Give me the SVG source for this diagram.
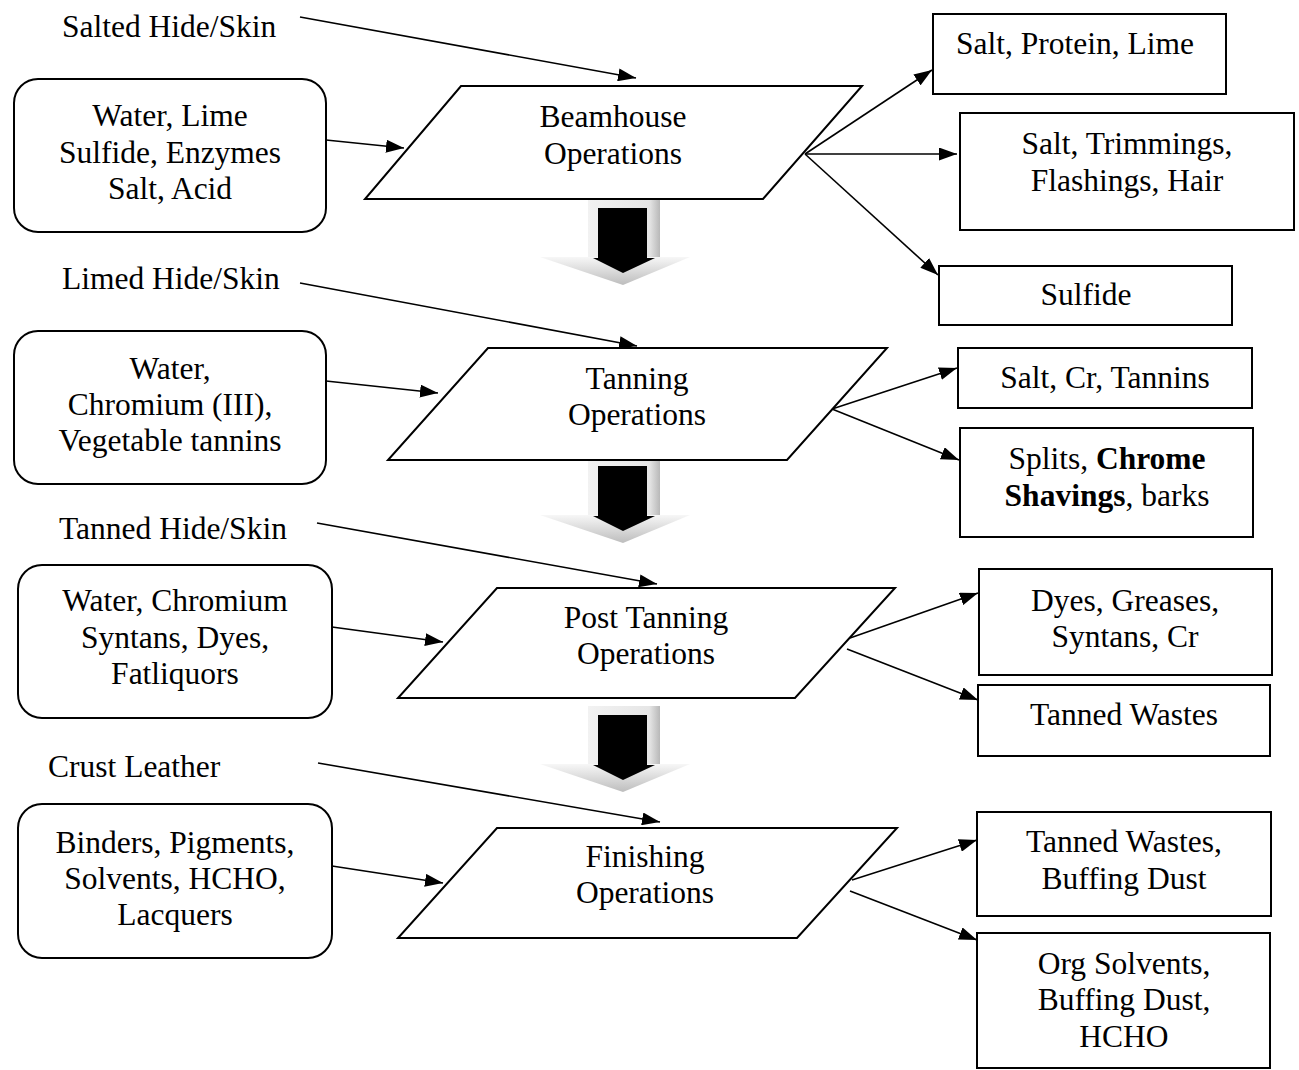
<svg xmlns="http://www.w3.org/2000/svg" width="1299" height="1070" viewBox="0 0 1299 1070">
<style>
text{font-family:"Liberation Serif","Times New Roman",serif;font-size:31.5px;fill:#000}
.c{text-anchor:middle}
.box{fill:#fff;stroke:#000;stroke-width:2}
.proc{fill:#fff;stroke:#000;stroke-width:2}
.con line{stroke:#000;stroke-width:1.6;marker-end:url(#ah)}
</style>
<defs>
<marker id="ah" markerUnits="userSpaceOnUse" markerWidth="18" markerHeight="13" refX="18" refY="6.5" orient="auto">
<path d="M0,0 L18,6.5 L0,13 z" fill="#000"/>
</marker>
<linearGradient id="gshaft" x1="0" y1="0" x2="1" y2="0">
<stop offset="0" stop-color="#f2f2f2"/><stop offset="0.85" stop-color="#e6e6e6"/><stop offset="1" stop-color="#b8b8b8"/>
</linearGradient>
<linearGradient id="ghead" x1="0" y1="0" x2="0" y2="1">
<stop offset="0" stop-color="#f7f7f7"/><stop offset="1" stop-color="#bdbdbd"/>
</linearGradient>
<g id="blockArrow">
<rect x="588" y="-9" width="72" height="58" fill="url(#gshaft)"/>
<polygon points="540,49 690,49 623,77" fill="url(#ghead)"/>
<polygon points="598,0 647,0 647,50 655,50 623,65 593,50 598,50" fill="#000"/>
</g>
</defs>
<rect width="1299" height="1070" fill="#fff"/>

<g id="flow-arrows">
<use href="#blockArrow" transform="translate(0,208)"/>
<use href="#blockArrow" transform="translate(0,466)"/>
<use href="#blockArrow" transform="translate(0,715)"/>
</g>

<g id="labels">
<text x="62" y="37">Salted Hide/Skin</text>
<text x="62" y="289">Limed Hide/Skin</text>
<text x="59" y="539">Tanned Hide/Skin</text>
<text x="48" y="777">Crust Leather</text>
</g>

<g id="in-beamhouse"><rect class="box" x="14" y="79" width="312" height="153" rx="24"/>
<text class="c" x="170" y="126">Water, Lime</text><text class="c" x="170" y="163">Sulfide, Enzymes</text><text class="c" x="170" y="199">Salt, Acid</text></g>
<g id="in-tanning"><rect class="box" x="14" y="331" width="312" height="153" rx="24"/>
<text class="c" x="170" y="379">Water,</text><text class="c" x="170" y="415">Chromium (III),</text><text class="c" x="170" y="451">Vegetable tannins</text></g>
<g id="in-posttanning"><rect class="box" x="18" y="565" width="314" height="153" rx="24"/>
<text class="c" x="175" y="611">Water, Chromium</text><text class="c" x="175" y="648">Syntans, Dyes,</text><text class="c" x="175" y="684">Fatliquors</text></g>
<g id="in-finishing"><rect class="box" x="18" y="804" width="314" height="154" rx="24"/>
<text class="c" x="175" y="853">Binders, Pigments,</text><text class="c" x="175" y="889">Solvents, HCHO,</text><text class="c" x="175" y="925">Lacquers</text></g>

<g id="beamhouse"><polygon class="proc" points="461,86 862,86 763,199 365,199"/>
<text class="c" x="613" y="127">Beamhouse</text><text class="c" x="613" y="164">Operations</text></g>
<g id="tanning"><polygon class="proc" points="488,348 887,348 787,460 388,460"/>
<text class="c" x="637" y="389">Tanning</text><text class="c" x="637" y="425">Operations</text></g>
<g id="posttanning"><polygon class="proc" points="497,588 895,588 795,698 398,698"/>
<text class="c" x="646" y="628">Post Tanning</text><text class="c" x="646" y="664">Operations</text></g>
<g id="finishing"><polygon class="proc" points="497,828 897,828 797,938 398,938"/>
<text class="c" x="645" y="867">Finishing</text><text class="c" x="645" y="903">Operations</text></g>

<g id="out-1"><rect class="box" x="933" y="14" width="293" height="80"/><text class="c" x="1075" y="54">Salt, Protein, Lime</text></g>
<g id="out-2"><rect class="box" x="960" y="113" width="334" height="117"/><text class="c" x="1127" y="154">Salt, Trimmings,</text><text class="c" x="1127" y="191">Flashings, Hair</text></g>
<g id="out-3"><rect class="box" x="939" y="266" width="293" height="59"/><text class="c" x="1086" y="305">Sulfide</text></g>
<g id="out-4"><rect class="box" x="958" y="348" width="294" height="60"/><text class="c" x="1105" y="388">Salt, Cr, Tannins</text></g>
<g id="out-5"><rect class="box" x="960" y="428" width="293" height="109"/><text class="c" x="1107" y="469">Splits, <tspan font-weight="bold">Chrome</tspan></text><text class="c" x="1107" y="506"><tspan font-weight="bold">Shavings</tspan>, barks</text></g>
<g id="out-6"><rect class="box" x="979" y="569" width="293" height="106"/><text class="c" x="1125" y="611">Dyes, Greases,</text><text class="c" x="1125" y="647">Syntans, Cr</text></g>
<g id="out-7"><rect class="box" x="978" y="685" width="292" height="71"/><text class="c" x="1124" y="725">Tanned Wastes</text></g>
<g id="out-8"><rect class="box" x="977" y="812" width="294" height="104"/><text class="c" x="1124" y="852">Tanned Wastes,</text><text class="c" x="1124" y="889">Buffing Dust</text></g>
<g id="out-9"><rect class="box" x="977" y="933" width="293" height="135"/><text class="c" x="1124" y="974">Org Solvents,</text><text class="c" x="1124" y="1010">Buffing Dust,</text><text class="c" x="1124" y="1047">HCHO</text></g>

<g id="connectors" class="con">
<line x1="300" y1="17" x2="636" y2="78"/>
<line x1="326" y1="140" x2="404" y2="148"/>
<line x1="805" y1="154" x2="932" y2="70"/>
<line x1="805" y1="154" x2="957" y2="154"/>
<line x1="805" y1="154" x2="938" y2="275"/>
<line x1="300" y1="283" x2="637" y2="346"/>
<line x1="326" y1="381" x2="438" y2="393"/>
<line x1="832" y1="409" x2="957" y2="368"/>
<line x1="832" y1="409" x2="959" y2="460"/>
<line x1="317" y1="523" x2="657" y2="584"/>
<line x1="332" y1="627" x2="443" y2="642"/>
<line x1="850" y1="638" x2="978" y2="593"/>
<line x1="847" y1="649" x2="978" y2="700"/>
<line x1="318" y1="763" x2="660" y2="822"/>
<line x1="332" y1="866" x2="443" y2="883"/>
<line x1="852" y1="880" x2="977" y2="840"/>
<line x1="850" y1="891" x2="977" y2="940"/>
</g>
</svg>
